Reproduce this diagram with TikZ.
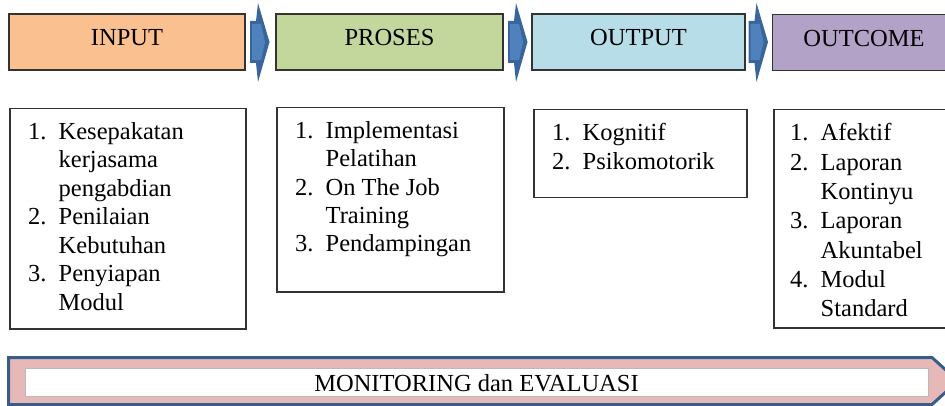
\documentclass[tikz,border=0pt]{standalone}
\usepackage{fontspec}
\setmainfont{Liberation Serif}
\definecolor{cin}{HTML}{FAC090}
\definecolor{cpr}{HTML}{C3D69B}
\definecolor{cout}{HTML}{B7DEE8}
\definecolor{coc}{HTML}{B3A2C7}
\definecolor{cpink}{HTML}{E6B9B8}
\definecolor{cdark}{HTML}{385D8A}
\definecolor{carr}{HTML}{4F81BD}
\definecolor{carrd}{HTML}{3A659C}
\definecolor{cline}{HTML}{333333}
\tikzset{
  txt/.style={font=\fontsize{24.5}{28.8}\selectfont},
  headbox/.style={draw=cline, line width=1.5pt, txt, inner sep=0pt,
    text height=16pt, text depth=8pt},
  listbox/.style={draw=cline, line width=1.5pt, inner sep=0pt, anchor=north west},
  listtxt/.style={txt, inner sep=0pt, anchor=base west},
}
\newcommand{\itm}[2]{\makebox[30.5pt][l]{#1}#2}
\newcommand{\cnt}[1]{\hspace*{30.5pt}#1}
\newcommand{\chevron}[1]{%
  \begin{scope}[xshift=#1]
    \fill[carrd] (250,21) -- (256,21) -- (258,3) -- (269.5,42) -- (258,82) -- (256,63) -- (250,63) -- cycle;
    \fill[carr] (252,24) -- (261,24) -- (265,42) -- (261,60) -- (252,60) -- cycle;
  \end{scope}}
\begin{document}
\begin{tikzpicture}[x=1pt,y=-1pt]
\useasboundingbox (0,0) rectangle (945,406);
% header boxes
\node[headbox, fill=cin, minimum width=236pt, minimum height=56pt] (input) at (127,42) {INPUT};
\node[headbox, fill=cpr, minimum width=227pt, minimum height=56pt] (proses) at (389.5,42) {PROSES};
\node[headbox, fill=cout, minimum width=213pt, minimum height=56pt] (output) at (638.5,42) {OUTPUT};
\node[headbox, fill=coc, minimum width=183pt, minimum height=56pt] (outcome) at (864,42.5) {OUTCOME};
% chevrons
\chevron{0pt}
\chevron{258pt}
\chevron{498.5pt}
% list boxes
\node[listbox, minimum width=236pt, minimum height=220pt] (l1) at (9,108) {};
\node[listbox, minimum width=227pt, minimum height=184pt] (l2) at (276,107) {};
\node[listbox, minimum width=213pt, minimum height=88pt] (l3) at (533,109) {};
\node[listbox, minimum width=190pt, minimum height=218pt] (l4) at (773,109) {};
\node[listtxt] (t1) at (28,139.5) {\parbox[t]{220pt}{\fontsize{24.5}{28.5}\selectfont
  \itm{1.}{Kesepakatan}\\ \cnt{kerjasama}\\ \cnt{pengabdian}\\
  \itm{2.}{Penilaian}\\ \cnt{Kebutuhan}\\ \itm{3.}{Penyiapan}\\ \cnt{Modul}}};
\node[listtxt] (t2) at (295,138.3) {\parbox[t]{210pt}{\fontsize{24.5}{28.4}\selectfont
  \itm{1.}{Implementasi}\\ \cnt{Pelatihan}\\ \itm{2.}{On The Job}\\
  \cnt{Training}\\ \itm{3.}{Pendampingan}}};
\node[listtxt] (t3) at (552,140.7) {\parbox[t]{190pt}{\fontsize{24.5}{29}\selectfont
  \itm{1.}{Kognitif}\\ \itm{2.}{Psikomotorik}}};
\node[listtxt] (t4) at (790,141) {\parbox[t]{190pt}{\fontsize{24.5}{29.3}\selectfont
  \itm{1.}{Afektif}\\ \itm{2.}{Laporan}\\ \cnt{Kontinyu}\\ \itm{3.}{Laporan}\\
  \cnt{Akuntabel}\\ \itm{4.}{Modul}\\ \cnt{Standard}}};
% bottom bar
\draw[cdark, line width=3pt, fill=cpink, line join=miter]
  (8.5,357.5) -- (932,357.5) -- (958,381) -- (932,404.5) -- (8.5,404.5) -- cycle;
\node[draw=gray!55, line width=0.8pt, fill=white, inner sep=0pt,
  minimum width=903pt, minimum height=28pt, txt, text height=18pt, text depth=0pt]
  (monev) at (476.5,382.5) {MONITORING dan EVALUASI};
\end{tikzpicture}
\end{document}
